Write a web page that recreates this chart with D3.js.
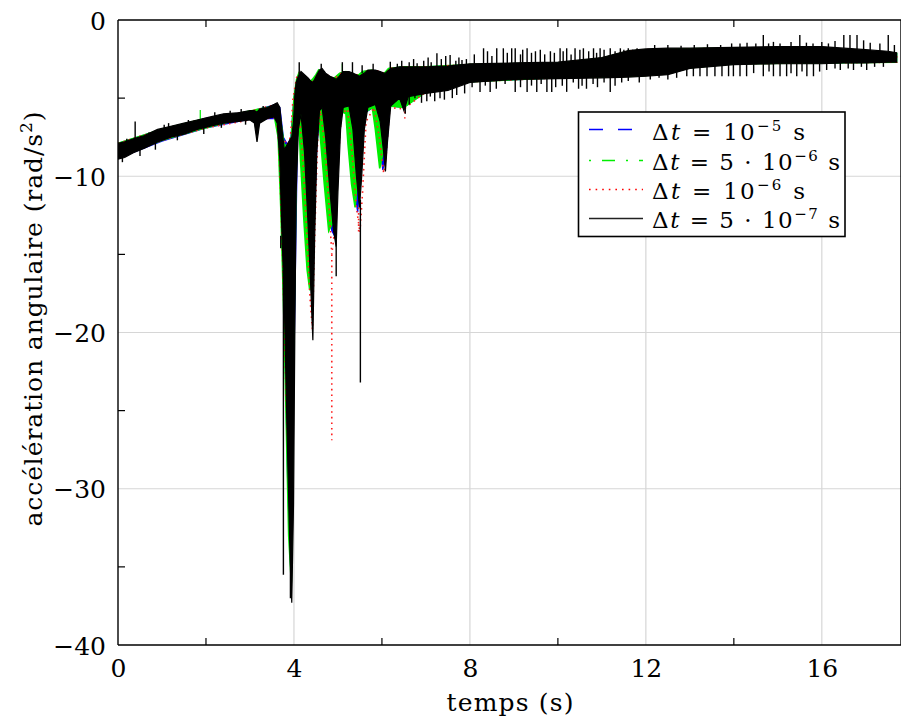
<!DOCTYPE html>
<html><head><meta charset="utf-8">
<script src="https://cdn.jsdelivr.net/npm/d3@7"></script>
<style>
body{margin:0;background:#fff}
svg{display:block}
.ser{font-family:'DejaVu Serif',serif;fill:#000}
</style>
</head><body>
<svg id="c" width="901" height="724"></svg>
<script>
// ---------- axis ticks ----------
const xTicks = [0, 4, 8, 12, 16];
const xMinor = [2, 6, 10, 14];
const yTicks = [0, -10, -20, -30, -40];
const yMinor = [-5, -15, -25, -35];

// ---------- legend ----------
const legendCoef = ["", "5 · ", "", "5 · "];
const legendExp  = ["−5", "−6", "−6", "−7"];
const legendColors = ["#0000ff", "#00ee00", "#ff0000", "#000000"];

// ---------- series: Δt = 1e-5 s (blue, dashed) ----------
const t_blue  = [0,1.0,2.0,3.0,3.6,3.68,3.76,3.86,3.93,4.0,4.08,4.14,4.2,4.28,4.35,4.4,4.46,4.52,4.6,4.68,4.78,4.86,4.92,4.98,5.06,5.2,5.3,5.38,5.45,5.5,5.58,5.8,5.92,6.02,6.1,6.18,6.5,7.0,8.0,10.0,11.0,11.6,12.0,13.0,14.0,17.7];
const lo_blue = [-8.85,-7.75,-6.9,-6.35,-6.3,-8.5,-16,-30,-35.5,-22,-7.5,-6.1,-8.5,-12.5,-16.1,-17,-13,-8,-5.8,-7.5,-11,-13.5,-13.8,-10,-6,-5.8,-8,-11.1,-12.3,-10,-6,-5.6,-7.5,-9.6,-8.5,-5.5,-5.6,-4.6,-3.95,-3.7,-3.65,-3.6,-3.55,-3.05,-2.8,-2.7];
const hi_blue = [-7.9,-7.0,-6.3,-5.85,-5.4,-5.6,-7.5,-8,-7.5,-5,-3.7,-3.4,-3.6,-3.8,-3.9,-4.0,-3.8,-3.5,-3.2,-3.4,-3.6,-3.7,-3.8,-3.6,-3.4,-3.3,-3.4,-3.5,-3.5,-3.5,-3.3,-3.2,-3.3,-3.4,-3.4,-3.1,-3.0,-3.0,-2.85,-2.75,-2.45,-2.0,-1.9,-1.85,-1.8,-2.15];

// ---------- series: Δt = 5e-6 s (green, dash-dot) ----------
const t_green  = [0,1.0,1.85,2.7,3.55,3.64,3.7,3.78,3.88,3.94,4.0,4.06,4.11,4.15,4.23,4.30,4.36,4.42,4.5,4.56,4.60,4.69,4.79,4.88,4.96,5.04,5.18,5.23,5.31,5.39,5.48,5.56,5.78,5.85,5.95,6.06,6.15,6.5,7.0,8.0,10.0,11.0,11.6,12.0,13.0,14.0,17.7];
const lo_green = [-8.8,-7.7,-7.0,-6.4,-6.1,-7.5,-12,-20,-33,-36,-20,-8,-6.2,-9,-13,-16,-17.3,-12,-7,-5.8,-7.5,-10.5,-13.5,-13,-9,-5.8,-6.0,-8.0,-10.5,-12,-9,-6,-5.6,-7,-9.5,-8,-5.5,-5.6,-4.6,-3.95,-3.7,-3.65,-3.6,-3.55,-3.05,-2.8,-2.7];
const hi_green = [-7.9,-7.0,-6.4,-6.0,-5.5,-5.5,-6.5,-8,-8,-7.5,-5,-3.8,-3.4,-3.6,-3.8,-3.9,-4.0,-3.8,-3.5,-3.2,-3.3,-3.5,-3.7,-3.8,-3.6,-3.4,-3.3,-3.4,-3.5,-3.5,-3.5,-3.3,-3.2,-3.3,-3.4,-3.4,-3.1,-3.0,-3.0,-2.85,-2.75,-2.45,-2.0,-1.9,-1.85,-1.8,-2.15];
const spikes_green = [[1.87,-6.5,-5.76],[5.1,-3.4,-2.8]];

// ---------- series: Δt = 1e-6 s (red, dotted) ----------
const t_red  = [0,1.0,2.0,3.0,3.6,3.66,3.74,3.84,3.92,3.98,4.06,4.12,4.2,4.3,4.37,4.42,4.47,4.54,4.6,4.7,4.8,4.86,4.92,4.98,5.08,5.22,5.32,5.42,5.5,5.56,5.64,5.82,5.94,6.04,6.1,6.18,6.5,7.0,8.0,10.0,11.0,11.6,12.0,13.0,14.0,17.7];
const lo_red = [-8.85,-7.7,-6.9,-6.4,-6.25,-8,-15,-26,-29,-20,-7.5,-6.1,-8.8,-14,-18,-19.8,-14,-7.5,-5.8,-8,-12,-15,-13.6,-10,-6,-5.7,-8.5,-12,-13.6,-11,-6.5,-5.6,-7.5,-9.8,-8.5,-5.6,-5.7,-4.6,-3.95,-3.7,-3.65,-3.6,-3.55,-3.05,-2.8,-2.7];
const hi_red = [-7.9,-7.0,-6.3,-5.85,-5.4,-5.6,-7.5,-8,-7.5,-5,-3.7,-3.4,-3.6,-3.8,-3.9,-4.0,-3.8,-3.5,-3.2,-3.4,-3.6,-3.7,-3.8,-3.6,-3.4,-3.3,-3.4,-3.5,-3.5,-3.5,-3.3,-3.2,-3.3,-3.4,-3.4,-3.1,-3.0,-3.0,-2.85,-2.75,-2.45,-2.0,-1.9,-1.85,-1.8,-2.15];
const spikes_red = [[4.86,-15,-26.9],[5.47,-12,-13.6],[6.52,-5.5,-6.3]];

// ---------- series: Δt = 5e-7 s (black, solid) ----------
const t_black  = [0,0.15,0.35,0.6,0.9,1.2,1.5,1.8,2.1,2.4,2.7,3.0,3.1,3.16,3.22,3.4,3.55,3.62,3.68,3.72,3.78,3.84,3.9,3.95,3.99,4.02,4.05,4.1,4.16,4.24,4.32,4.38,4.43,4.47,4.52,4.58,4.64,4.72,4.82,4.9,4.96,5.0,5.06,5.12,5.25,5.34,5.42,5.49,5.54,5.6,5.68,5.85,5.96,6.04,6.08,6.12,6.2,6.4,6.5,6.6,7.0,7.5,8.0,9.0,10.0,11.0,11.6,12.0,12.5,13.0,14.0,15.0,16.0,16.5,17.0,17.5,17.7];
const lo_black = [-8.9,-8.8,-8.5,-8.2,-7.8,-7.5,-7.3,-7.0,-6.8,-6.6,-6.5,-6.4,-6.6,-7.8,-6.6,-6.3,-6.2,-6.6,-9.0,-13.0,-18,-26,-33,-37.3,-31,-20,-11,-7,-6,-8.5,-13,-17,-20.5,-14,-8.5,-5.8,-5.6,-7.5,-11,-13.5,-14.5,-11,-7,-5.6,-5.5,-7,-10,-12,-10,-7,-5.6,-5.4,-6.5,-8.5,-9.7,-8,-5.5,-5,-5.8,-4.9,-4.7,-4.5,-4.0,-3.8,-3.75,-3.7,-3.65,-3.6,-3.5,-3.1,-2.85,-2.8,-2.8,-2.75,-2.75,-2.7,-2.7];
const hi_black = [-7.9,-7.8,-7.6,-7.4,-7.0,-6.8,-6.6,-6.4,-6.2,-6.0,-5.95,-5.8,-5.8,-5.9,-5.7,-5.6,-5.4,-5.3,-5.6,-6.8,-8.3,-8.0,-7.7,-7.5,-6.5,-4.8,-4.0,-3.6,-3.3,-3.5,-3.7,-3.9,-4.0,-3.8,-3.5,-3.2,-3.1,-3.4,-3.6,-3.7,-3.8,-3.7,-3.5,-3.3,-3.3,-3.4,-3.5,-3.6,-3.5,-3.4,-3.2,-3.2,-3.3,-3.4,-3.4,-3.3,-3.1,-3.0,-3.0,-3.0,-3.0,-2.95,-2.8,-2.75,-2.7,-2.4,-1.95,-1.85,-1.8,-1.8,-1.75,-1.7,-1.7,-1.8,-1.9,-2.0,-2.1];
// vertical excursions [t, from, to]
const spikes_black = [
  [0.39,-8.0,-6.5],[1.05,-7.4,-6.7],[2.55,-6.3,-5.8],
  [0.10,-8.4,-9.1],[0.20,-8.3,-7.6],[0.50,-8.0,-8.7],[0.70,-7.8,-7.2],[0.85,-7.6,-8.3],
  [1.15,-7.1,-6.6],[1.35,-7.1,-7.7],[1.60,-6.9,-6.4],[1.95,-6.7,-7.3],[2.20,-6.5,-5.9],
  [2.35,-6.3,-6.9],[2.80,-6.2,-5.7],[2.90,-6.1,-6.7],[3.30,-5.9,-5.5],
  [3.70,-13.8,-14.6],[3.76,-16.0,-35.5],[3.92,-20,-37.0],
  [4.12,-3.5,-2.7],[4.62,-3.2,-2.8],[4.96,-14,-16.4],[5.10,-3.4,-2.7],[5.33,-3.4,-2.7],
  [5.51,-11.5,-23.2],[5.55,-3.4,-2.9],[5.80,-3.3,-2.8],
  [6.19,-3.1,-2.67],[6.53,-5.0,-6.0],[6.80,-3.0,-2.77],[6.90,-4.7,-5.3],[7.20,-4.5,-5.2],
  [7.25,-3.0,-2.13],[7.55,-3.0,-2.24],[7.60,-4.4,-5.0],[7.82,-2.9,-2.56],
  [6.35,-3.1,-2.8],[6.45,-3.1,-2.6],[6.62,-3.1,-2.7],[6.72,-3.1,-2.5],[6.95,-3.1,-2.6],
  [7.05,-3.1,-2.4],[7.12,-3.1,-2.7],[7.35,-3.1,-2.5],[7.45,-3.1,-2.3],[7.68,-3.0,-2.6],
  [7.75,-3.0,-2.4],[7.92,-2.9,-2.5],
  [6.32,-4.8,-5.2],[6.45,-4.8,-5.3],[6.62,-4.8,-5.4],[6.75,-4.7,-5.0],[7.02,-4.6,-5.2],
  [7.10,-4.6,-4.9],[7.32,-4.5,-5.0],[7.42,-4.4,-5.1],[7.70,-4.2,-4.8],[7.88,-4.0,-4.7],
  [8.31,-2.8,-1.81],[8.61,-2.8,-1.81],[8.76,-2.8,-1.81],[8.95,-2.8,-1.81],[9.03,-2.8,-1.81],
  [9.30,-2.8,-1.81],[9.49,-2.8,-2.0],[9.83,-2.8,-2.0],[10.05,-2.7,-1.81],[10.20,-2.7,-1.81],
  [10.39,-2.7,-1.81],[10.58,-2.7,-1.81],[10.81,-2.6,-1.81],[10.96,-2.6,-1.81],[11.19,-2.5,-1.81],
  [11.42,-2.3,-1.81],[11.60,-2.0,-1.81],[11.80,-2.0,-1.81],
  [8.10,-2.8,-2.2],[8.40,-2.8,-2.0],[8.50,-2.8,-2.3],[8.85,-2.8,-2.1],[9.15,-2.8,-2.2],
  [9.20,-2.8,-1.9],[9.40,-2.8,-2.1],[9.60,-2.8,-1.9],[9.70,-2.8,-2.2],[9.92,-2.7,-2.1],
  [10.12,-2.7,-2.0],[10.30,-2.7,-2.2],[10.50,-2.7,-1.9],[10.70,-2.6,-2.0],[10.88,-2.6,-2.1],
  [11.05,-2.5,-1.9],[11.30,-2.4,-2.0],[11.50,-2.2,-1.9],[11.70,-2.0,-1.9],
  [8.23,-3.7,-4.6],[8.46,-3.7,-4.6],[9.03,-3.7,-4.6],[9.30,-3.7,-4.6],[9.52,-3.7,-4.6],
  [9.75,-3.7,-4.6],[9.86,-3.7,-4.6],[10.20,-3.7,-4.6],[10.47,-3.7,-4.4],[10.65,-3.7,-4.4],[11.19,-3.7,-4.6],
  [8.05,-3.9,-4.3],[8.35,-3.8,-4.2],[8.60,-3.8,-4.4],[8.80,-3.8,-4.1],[9.15,-3.8,-4.3],
  [9.40,-3.7,-4.2],[9.62,-3.7,-4.1],[9.95,-3.7,-4.3],[10.10,-3.7,-4.2],[10.35,-3.7,-4.0],
  [10.55,-3.7,-4.2],[10.80,-3.7,-4.1],[10.90,-3.7,-4.3],[11.05,-3.7,-4.0],[11.30,-3.6,-4.2],
  [11.45,-3.6,-4.0],[11.60,-3.6,-3.9],[11.85,-3.6,-4.0],
  [12.10,-3.5,-3.8],[12.30,-3.5,-3.7],[12.50,-3.4,-3.8],[12.70,-3.3,-3.7],
  [12.93,-2.8,-3.6],[13.08,-2.8,-3.6],[13.23,-2.8,-3.6],[13.39,-2.8,-3.6],[13.57,-2.8,-3.6],
  [13.73,-2.8,-3.6],[13.88,-2.8,-3.6],[13.99,-2.8,-3.6],[14.14,-2.8,-3.6],[14.29,-2.8,-3.6],
  [14.67,-2.8,-3.6],[14.90,-2.8,-3.6],[15.05,-2.8,-3.6],[15.20,-2.8,-3.6],[15.43,-2.8,-3.6],
  [15.66,-2.8,-3.6],[15.81,-2.8,-3.6],[16.11,-2.75,-3.2],[16.42,-2.75,-3.2],[16.72,-2.75,-3.2],[17.02,-2.75,-3.2],
  [14.45,-2.8,-3.4],[14.80,-2.8,-3.3],[15.30,-2.8,-3.4],[15.55,-2.8,-3.3],[15.95,-2.8,-3.3],
  [16.30,-2.75,-3.1],[16.60,-2.75,-3.1],[16.90,-2.75,-3.0],[17.20,-2.7,-3.0],[17.40,-2.7,-3.0],
  [14.14,-1.8,-1.5],[14.50,-1.8,-1.5],[14.67,-1.8,-0.96],[14.79,-1.8,-1.5],[15.05,-1.8,-1.5],
  [15.50,-1.8,-0.96],[15.80,-1.8,-1.5],[16.15,-1.8,-1.5],[16.50,-1.8,-0.96],[16.64,-1.8,-0.96],
  [16.80,-1.9,-0.96],[16.95,-1.9,-1.3],[17.32,-2.0,-1.5],[17.51,-2.0,-0.96],
  [12.20,-1.9,-1.6],[12.50,-1.9,-1.6],[12.80,-1.9,-1.65],[13.10,-1.9,-1.6],[13.40,-1.9,-1.55],
  [13.70,-1.9,-1.6],[13.95,-1.9,-1.5],[14.30,-1.9,-1.45],[14.90,-1.9,-1.4],[15.30,-1.9,-1.4],
  [15.65,-1.9,-1.45],[16.00,-1.9,-1.4],[16.30,-1.9,-1.35],[17.10,-2.0,-1.45],[17.65,-2.1,-1.6]
];

// ---------- layout ----------
const svg = d3.select("#c");
const x = d3.scaleLinear().domain([0, 17.8]).range([118, 901]);
const y = d3.scaleLinear().domain([-40, 0]).range([645, 20]);
const FS = 25;

svg.append("defs").append("clipPath").attr("id", "clip")
  .append("rect").attr("x", x(0)).attr("y", y(0))
  .attr("width", x(17.8) - x(0)).attr("height", y(-40) - y(0));

// grid
const grid = svg.append("g").attr("stroke", "#d6d6d6").attr("stroke-width", 1.2);
grid.selectAll("line.gx").data(xTicks.slice(1)).join("line")
  .attr("x1", d => x(d)).attr("x2", d => x(d)).attr("y1", y(-40)).attr("y2", y(0));
grid.selectAll("line.gy").data(yTicks.slice(1, -1)).join("line")
  .attr("x1", x(0)).attr("x2", x(17.8)).attr("y1", d => y(d)).attr("y2", d => y(d));

const plot = svg.append("g").attr("clip-path", "url(#clip)");
const area = d3.area().x(d => x(d.t)).y0(d => y(d.lo)).y1(d => y(d.hi));
function rows(ts, lo, hi) { return ts.map((t, i) => ({ t: t, lo: lo[i], hi: hi[i] })); }
function spikes(list, color, w, dash) {
  plot.append("g").selectAll("line").data(list).join("line")
    .attr("x1", d => x(d[0])).attr("x2", d => x(d[0]))
    .attr("y1", d => y(d[1])).attr("y2", d => y(d[2]))
    .attr("stroke", color).attr("stroke-width", w)
    .attr("stroke-dasharray", dash || null);
}

plot.append("path").attr("d", area(rows(t_blue, lo_blue, hi_blue)))
  .attr("fill", "#0000ff").attr("stroke", "#0000ff").attr("stroke-width", 1.2);
plot.append("path").attr("d", area(rows(t_green, lo_green, hi_green)))
  .attr("fill", "#00ee00").attr("stroke", "#00ee00").attr("stroke-width", 1.6);
spikes(spikes_green, "#00ee00", 1.2);
plot.append("path").attr("d", area(rows(t_red, lo_red, hi_red)))
  .attr("fill", "none").attr("stroke", "#ff2020").attr("stroke-width", 1.6)
  .attr("stroke-dasharray", "1.6,4");
spikes(spikes_red, "#ff2020", 1.6, "1.6,4");
plot.append("path").attr("d", area(rows(t_black, lo_black, hi_black)))
  .attr("fill", "#000").attr("stroke", "#000").attr("stroke-width", 1.2);
spikes(spikes_black, "#000", 1.4);

// frame
const frame = svg.append("g").attr("stroke", "#000").attr("stroke-width", 1.4).attr("fill", "none");
frame.append("line").attr("x1", x(0)).attr("x2", x(0)).attr("y1", y(0)).attr("y2", y(-40));
frame.append("line").attr("x1", x(0)).attr("x2", x(17.8)).attr("y1", y(-40)).attr("y2", y(-40));
frame.append("line").attr("x1", x(0)).attr("x2", x(17.8)).attr("y1", y(0)).attr("y2", y(0));
frame.append("line").attr("x1", x(17.8)).attr("x2", x(17.8)).attr("y1", y(0)).attr("y2", y(-40));
const mt = svg.append("g").attr("stroke", "#000").attr("stroke-width", 1.2);
mt.selectAll("line.b").data(xMinor).join("line").attr("class", "b")
  .attr("x1", d => x(d)).attr("x2", d => x(d)).attr("y1", y(-40)).attr("y2", y(-40) - 7);
mt.selectAll("line.t").data(xMinor).join("line").attr("class", "t")
  .attr("x1", d => x(d)).attr("x2", d => x(d)).attr("y1", y(0)).attr("y2", y(0) + 7);
mt.selectAll("line.l").data(yMinor).join("line").attr("class", "l")
  .attr("x1", x(0)).attr("x2", x(0) + 7).attr("y1", d => y(d)).attr("y2", d => y(d));

// tick labels
const ax = svg.append("g").attr("transform", `translate(0,${y(-40)})`)
  .call(d3.axisBottom(x).tickValues(xTicks).tickSize(0).tickPadding(14));
ax.select(".domain").remove();
ax.attr("font-family", null).attr("font-size", null);
ax.selectAll("text").attr("class", "ser").attr("font-size", FS);
const ay = svg.append("g").attr("transform", `translate(${x(0)},0)`)
  .call(d3.axisLeft(y).tickValues(yTicks).tickSize(0).tickPadding(12));
ay.select(".domain").remove();
ay.attr("font-family", null).attr("font-size", null);
ay.selectAll("text").attr("class", "ser").attr("font-size", FS).attr("dy", "0.36em");

// axis titles
svg.append("text").attr("class", "ser").attr("x", 510).attr("y", 711).attr("text-anchor", "middle")
  .attr("font-size", FS).attr("textLength", 127).attr("lengthAdjust", "spacing").text("temps (s)");
const yl = svg.append("text").attr("class", "ser").attr("transform", "translate(42,319) rotate(-90)")
  .attr("text-anchor", "middle").attr("font-size", FS)
  .attr("textLength", 415).attr("lengthAdjust", "spacing");
yl.append("tspan").text("accélération angulaire (rad/s");
yl.append("tspan").attr("dy", -10).attr("font-size", 17).text("2");
yl.append("tspan").attr("dy", 10).text(")");

// legend
const lg = svg.append("g");
lg.append("rect").attr("x", 578.5).attr("y", 112).attr("width", 266.5).attr("height", 124.5)
  .attr("fill", "#fff").attr("stroke", "#000").attr("stroke-width", 1.6);
const lineY = [129.5, 160.5, 189.5, 218.5];
const textY = [140, 170, 199, 228];
const textLen = [153, 188, 153, 188];
const dashes = ["14,15", "2,11,13,11", "1.6,5", null];
legendColors.forEach((c, i) => {
  lg.append("line").attr("x1", 589).attr("x2", 643).attr("y1", lineY[i]).attr("y2", lineY[i])
    .attr("stroke", i === 3 ? "#222" : c).attr("stroke-width", i === 2 ? 1.6 : 1.4)
    .attr("stroke-dasharray", dashes[i]);
  const t = lg.append("text").attr("class", "ser").attr("x", 652).attr("y", textY[i]).attr("font-size", 23)
    .attr("textLength", textLen[i]).attr("lengthAdjust", "spacing");
  t.append("tspan").text("Δ");
  t.append("tspan").attr("font-style", "italic").text("t");
  t.append("tspan").text(" = " + legendCoef[i] + "10");
  t.append("tspan").attr("dy", -9).attr("font-size", 15).text(legendExp[i]);
  t.append("tspan").attr("dy", 9).text(" s");
});
</script>
</body></html>
